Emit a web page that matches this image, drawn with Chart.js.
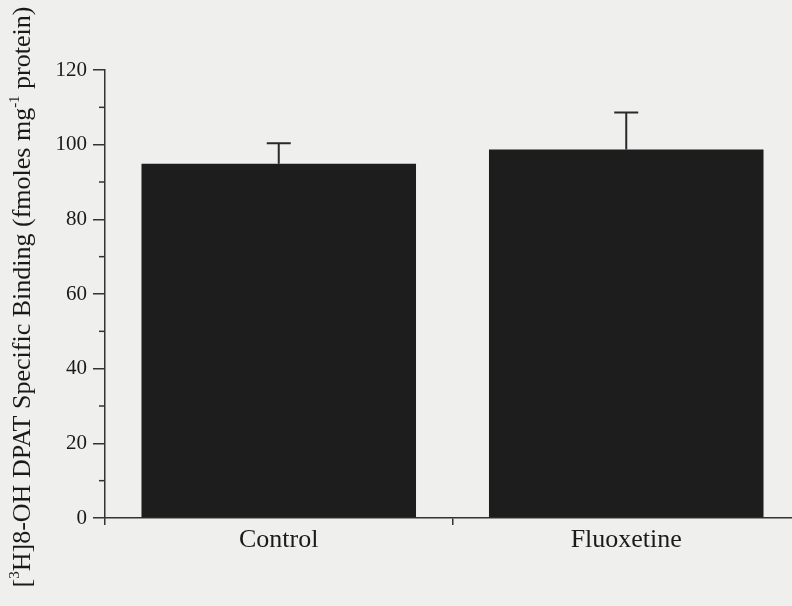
<!DOCTYPE html>
<html>
<head>
<meta charset="utf-8">
<script src="https://cdn.jsdelivr.net/npm/chart.js@4/dist/chart.umd.min.js"></script>
<style>
  html, body { margin: 0; padding: 0; background: #efefed; overflow: hidden; }
  #wrap { width: 800px; height: 606px; }
</style>
</head>
<body>
<div id="wrap"><canvas id="bindingChart" width="800" height="606"></canvas></div>
<script>
// data
const groups = ['Control', 'Fluoxetine'];
const binding = [94.9, 98.7];
const sem = [5.5, 9.9];
const yTicks = [0, 20, 40, 60, 80, 100, 120];
const yMinorTicks = [10, 30, 50, 70, 90, 110];

// y axis title, pieces flagged as superscript where needed
const yTitleParts = [
    { text: '[', sup: false },
    { text: '3', sup: true },
    { text: 'H]8-OH DPAT Specific Binding (fmoles mg', sup: false },
    { text: '-1', sup: true },
    { text: ' protein)', sup: false }
];

const serif = '"Liberation Serif", "Times New Roman", serif';

// error bars (upward only), minor ticks on the y axis, y title with superscripts
const extras = {
    id: 'extras',
    afterDatasetsDraw(chart) {
        const ctx = chart.ctx;
        const y = chart.scales.y;
        const bars = chart.getDatasetMeta(0).data;
        ctx.save();
        ctx.strokeStyle = '#2a2a2a';
        ctx.lineWidth = 2;
        bars.forEach(function(bar, i) {
            const top = y.getPixelForValue(binding[i] + sem[i]);
            ctx.beginPath();
            ctx.moveTo(bar.x, bar.y);
            ctx.lineTo(bar.x, top);
            ctx.moveTo(bar.x - 12, top);
            ctx.lineTo(bar.x + 12, top);
            ctx.stroke();
        });
        ctx.lineWidth = 1.5;
        ctx.strokeStyle = '#333';
        yMinorTicks.forEach(function(v) {
            const py = y.getPixelForValue(v);
            ctx.beginPath();
            ctx.moveTo(y.right - 6, py);
            ctx.lineTo(y.right, py);
            ctx.stroke();
        });

        // rotated axis title
        const big = '26px ' + serif;
        const small = '15px ' + serif;
        let total = 0;
        yTitleParts.forEach(function(p) {
            ctx.font = p.sup ? small : big;
            p.w = ctx.measureText(p.text).width;
            total += p.w;
        });
        ctx.translate(30, (chart.chartArea.top + chart.chartArea.bottom) / 2 + 3);
        ctx.rotate(-Math.PI / 2);
        ctx.fillStyle = '#1a1a1a';
        ctx.textBaseline = 'alphabetic';
        let x = -total / 2;
        yTitleParts.forEach(function(p) {
            ctx.font = p.sup ? small : big;
            ctx.fillText(p.text, x, p.sup ? -11 : 0);
            x += p.w;
        });
        ctx.restore();
    }
};

new Chart(document.getElementById('bindingChart'), {
    type: 'bar',
    data: {
        labels: groups,
        datasets: [{
            data: binding,
            backgroundColor: '#1d1d1d',
            borderWidth: 0,
            barPercentage: 0.79,
            categoryPercentage: 1.0
        }]
    },
    options: {
        responsive: false,
        animation: false,
        layout: { padding: { top: 70, right: 0, bottom: 0, left: 0 } },
        plugins: {
            legend: { display: false },
            tooltip: { enabled: false }
        },
        scales: {
            x: {
                offset: true,
                grid: {
                    offset: true,
                    drawOnChartArea: false,
                    tickLength: 7,
                    color: '#333',
                    lineWidth: 1.5
                },
                border: { color: '#333', width: 1.5 },
                ticks: {
                    color: '#1a1a1a',
                    font: { family: serif, size: 26 },
                    padding: 0
                },
                afterFit: function(scale) { scale.height = 88; }
            },
            y: {
                min: 0,
                max: 120,
                afterBuildTicks: function(scale) {
                    scale.ticks = yTicks.map(function(v) { return { value: v }; });
                },
                grid: {
                    drawOnChartArea: false,
                    tickLength: 12,
                    color: '#333',
                    lineWidth: 1.5
                },
                border: { color: '#333', width: 1.5 },
                ticks: {
                    color: '#1a1a1a',
                    font: { family: serif, size: 21 },
                    padding: 6
                },
                afterFit: function(scale) { scale.width = 105; }
            }
        }
    },
    plugins: [extras]
});
</script>
</body>
</html>
